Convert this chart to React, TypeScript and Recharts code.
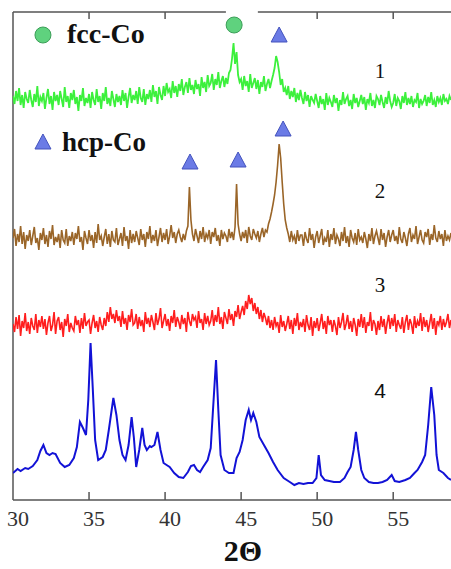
import React from 'react';
import {
  ComposedChart, Line, Scatter, XAxis, YAxis, ReferenceLine
} from 'recharts';

// 2-theta ticks
const xTicks = [30, 35, 40, 45, 50, 55];
const topTicks = [35, 40, 50, 55];

// traces 1-3 are sampled every 0.1 deg starting at 30
const greenVals = [
  404,396,409,399,412,395,405,392,408,401,
  397,410,400,393,406,398,414,394,403,399,
  407,391,402,411,396,404,390,408,399,405,
  395,409,401,393,413,398,404,392,407,400,
  410,396,403,389,405,399,412,394,402,397,
  406,392,408,400,395,411,398,404,391,407,
  399,413,396,402,394,409,401,393,406,398,
  404,395,410,399,407,392,403,412,397,405,
  400,409,396,413,402,398,411,395,406,401,
  410,398,415,403,409,396,413,405,400,414,
  404,417,408,411,402,419,407,414,403,416,
  409,421,405,413,418,407,422,410,415,406,
  420,411,416,404,423,412,418,408,425,414,
  417,426,410,421,415,428,412,419,424,413,
  422,416,427,430,441,457,436,448,425,418,
  421,410,424,414,419,408,426,412,417,422,
  411,420,406,418,413,424,409,416,421,412,
  419,425,432,444,438,428,415,421,408,412,
  405,414,401,409,403,412,398,407,400,410,
  402,396,408,399,405,393,404,400,397,406,
  399,392,404,396,401,390,407,395,402,398,
  393,405,397,402,389,400,395,408,396,401,
  404,394,400,391,406,397,402,393,399,405,
  396,403,390,401,397,407,394,400,392,404,
  401,395,405,398,392,403,396,409,399,393,
  397,406,394,402,399,391,404,397,408,395,
  402,396,404,393,400,398,407,392,401,396,
  399,405,394,403,397,408,395,400,393,404,
  398,402,395,406,399,401,396,404,400,
];

const brownVals = [
  262,271,254,266,258,274,256,268,251,265,
  259,270,255,264,273,257,262,250,267,260,
  272,256,265,253,269,261,275,255,263,258,
  266,252,270,260,257,271,254,264,259,268,
  255,267,261,274,258,263,250,269,262,256,
  270,259,265,252,268,257,276,260,264,254,
  263,271,256,266,253,269,260,258,272,255,
  261,267,254,273,259,264,251,270,257,266,
  258,269,262,255,271,260,266,253,268,261,
  274,257,265,259,270,254,263,272,258,267,
  260,271,256,264,275,262,268,257,266,270,
  263,258,266,260,269,274,313,280,266,259,
  271,264,257,269,261,273,258,266,262,270,
  256,268,263,272,259,265,254,270,261,267,
  264,258,271,262,268,260,273,316,276,266,
  259,268,262,270,257,273,264,260,271,266,
  262,269,258,266,272,263,270,268,276,281,
  288,296,305,318,335,356,342,318,296,280,
  272,266,258,269,260,264,256,270,259,265,
  265,254,268,261,257,272,260,266,252,263,
  269,257,264,271,255,262,258,270,253,266,
  260,272,256,265,261,254,268,259,273,257,
  264,253,270,262,258,267,255,271,260,263,
  257,268,261,252,266,259,272,256,264,269,
  262,255,271,260,267,253,263,270,258,265,
  270,259,264,256,273,261,257,268,262,254,
  266,272,258,265,261,274,256,263,270,260,
  257,268,263,271,255,266,260,275,262,258,
  269,261,266,254,270,259,264,260,267,
];

const redVals = [
  176,168,183,171,185,164,179,172,187,169,
  178,166,182,174,170,186,167,180,173,184,
  171,181,165,177,184,169,175,188,166,179,
  183,170,178,163,181,174,186,168,177,172,
  169,184,175,180,167,182,171,187,174,178,
  180,166,177,185,172,179,168,183,175,170,
  182,174,188,178,193,181,186,177,190,179,
  184,173,189,176,182,170,185,178,191,175,
  177,186,171,183,174,180,168,188,176,182,
  173,185,178,170,187,175,181,192,172,179,
  186,174,181,169,184,177,190,173,183,178,
  171,185,176,182,168,188,179,174,186,180,
  183,172,189,177,181,170,187,176,184,175,
  179,190,174,185,178,193,176,183,171,188,
  182,176,191,180,186,174,189,183,195,181,
  188,194,185,199,191,205,196,202,189,197,
  186,193,181,190,178,187,182,175,184,172,
  180,170,183,174,178,167,185,173,179,169,
  176,184,171,180,166,182,174,187,170,178,
  173,181,168,185,175,170,183,164,179,172,
  182,169,177,186,171,179,166,184,175,180,
  168,180,174,165,183,172,178,187,170,176,
  185,171,179,168,182,175,164,181,173,186,
  172,183,167,178,174,188,169,180,176,165,
  179,170,184,173,181,166,177,185,171,182,
  174,186,168,180,175,171,183,167,178,185,
  170,181,176,166,184,172,179,174,187,169,
  183,173,180,168,177,186,171,182,165,179,
  175,184,170,181,173,178,186,172,180,
];

// trace 4 (blue), irregular sampling
const blueX = [
  30.0, 30.3, 30.5, 30.8, 31.0, 31.3, 31.6, 31.8, 32.0, 32.2, 32.4, 32.6, 32.8, 33.1, 33.4, 33.7,
  34.0, 34.2, 34.4, 34.6, 34.8, 34.95, 35.1, 35.25, 35.4, 35.6, 35.9, 36.1, 36.3, 36.6, 36.8, 37.0,
  37.2, 37.4, 37.6, 37.8, 37.95, 38.1, 38.3, 38.5, 38.65, 38.8, 39.0, 39.1, 39.3, 39.5, 39.7, 39.9,
  40.1, 40.3, 40.6, 40.9, 41.2, 41.5, 41.7, 41.9, 42.1, 42.3, 42.5, 42.8, 43.0, 43.15, 43.35, 43.5,
  43.65, 43.9, 44.2, 44.5, 44.7, 44.9, 45.1, 45.3, 45.5, 45.65, 45.8, 46.0, 46.2, 46.5, 46.8, 47.1,
  47.4, 47.8, 48.2, 48.5, 48.8, 49.1, 49.4, 49.7, 49.95, 50.1, 50.25, 50.5, 50.8, 51.1, 51.5, 51.8,
  52.0, 52.2, 52.4, 52.55, 52.7, 52.9, 53.1, 53.4, 53.7, 54.0, 54.3, 54.6, 54.9, 55.1, 55.4, 55.8,
  56.1, 56.4, 56.6, 56.9, 57.1, 57.3, 57.5, 57.7, 57.85, 58.0, 58.3, 58.6, 58.8,
];
const blueVals = [
  27, 31, 29, 32, 31, 34, 40, 49, 55, 47, 45, 47, 46, 37, 33, 35,
  42, 53, 78, 72, 65, 100, 157, 110, 60, 40, 43, 50, 70, 102, 85, 60,
  45, 40, 55, 83, 62, 33, 50, 72, 55, 50, 54, 53, 55, 68, 50, 37,
  35, 33, 27, 23, 22, 28, 34, 35, 30, 28, 33, 40, 52, 90, 140, 90,
  45, 30, 27, 27, 42, 48, 60, 80, 90, 80, 87, 78, 63, 55, 47, 38,
  30, 22, 18, 15, 17, 16, 17, 17, 22, 45, 25, 20, 19, 18, 18, 22,
  28, 33, 50, 68, 50, 30, 22, 18, 17, 17, 18, 20, 25, 19, 18, 20,
  22, 27, 30, 38, 45, 75, 113, 85, 45, 30, 27, 22, 20,
];

// phase markers
const fccMarks = [{ x: 44.54, y: 475 }, { x: 31.97, y: 465 }];
const hcpMarks = [
  { x: 47.5, y: 465 }, { x: 31.97, y: 358 },
  { x: 41.64, y: 338 }, { x: 44.8, y: 340 }, { x: 47.76, y: 371 },
];

const toRows = (vals: number[]) => vals.map((v, i) => ({ x: +(30 + i * 0.1).toFixed(1), y: v }));
const greenData = toRows(greenVals);
const brownData = toRows(brownVals);
const redData = toRows(redVals);
const blueData = blueX.map((x, i) => ({ x, y: blueVals[i] }));

const AXIS = '#555';
const SERIF = '"Liberation Serif", "DejaVu Serif", serif';
const SANS = '"Liberation Sans", Arial, sans-serif';

const Circle = (p: any) => (
  <circle cx={p.cx} cy={p.cy} r={8} fill="#5fd27e" stroke="#3c9e58" strokeWidth={1} />
);
const Triangle = (p: any) => (
  <polygon
    points={`${p.cx},${p.cy - 8} ${p.cx - 8},${p.cy + 7} ${p.cx + 8},${p.cy + 7}`}
    fill="#6b7be6" stroke="#4453bd" strokeWidth={1}
  />
);

const Tick = (p: any) => (
  <text x={p.x + 5} y={526} textAnchor="middle" fontSize={22} fill="#333" style={{ fontFamily: SERIF }}>
    {p.payload.value}
  </text>
);

export default function App() {
  return (
    <div style={{ position: 'absolute', left: 0, top: 0, width: 451, height: 569, background: '#fff' }}>
      <ComposedChart width={451} height={569} margin={{ top: 12, right: 0, left: 13, bottom: 0 }}>
        <XAxis
          type="number" dataKey="x" domain={[30, 58.8]} ticks={xTicks}
          allowDataOverflow tickLine={false} axisLine={{ stroke: AXIS, strokeWidth: 1.5 }}
          tick={<Tick />} height={69}
        />
        <YAxis type="number" dataKey="y" domain={[0, 488]} hide />
        <ReferenceLine x={30} stroke={AXIS} strokeWidth={1.5} />
        <ReferenceLine segment={[{ x: 30, y: 488 }, { x: 44.0, y: 488 }]} stroke={AXIS} strokeWidth={1.5} />
        <ReferenceLine segment={[{ x: 46.1, y: 488 }, { x: 58.8, y: 488 }]} stroke={AXIS} strokeWidth={1.5} />
        {xTicks.slice(1).map((t) => (
          <ReferenceLine key={`b${t}`} segment={[{ x: t, y: 0 }, { x: t, y: 8 }]} stroke={AXIS} strokeWidth={1.5} />
        ))}
        {topTicks.map((t) => (
          <ReferenceLine key={`t${t}`} segment={[{ x: t, y: 488 }, { x: t, y: 481 }]} stroke={AXIS} strokeWidth={1.5} />
        ))}
        <Line data={greenData} dataKey="y" type="linear" stroke="#3cf03c" strokeWidth={1.8} dot={false} isAnimationActive={false} />
        <Line data={brownData} dataKey="y" type="linear" stroke="#9a6528" strokeWidth={1.6} dot={false} isAnimationActive={false} />
        <Line data={redData} dataKey="y" type="linear" stroke="#ff1e1e" strokeWidth={1.6} dot={false} isAnimationActive={false} />
        <Line data={blueData} dataKey="y" type="linear" stroke="#1212d6" strokeWidth={2} dot={false} isAnimationActive={false} />
        <Scatter data={fccMarks} dataKey="y" shape={<Circle />} isAnimationActive={false} />
        <Scatter data={hcpMarks} dataKey="y" shape={<Triangle />} isAnimationActive={false} />
      </ComposedChart>
      <svg width={451} height={569} style={{ position: 'absolute', left: 0, top: 0, pointerEvents: 'none' }}>
        <g fill="#111" style={{ fontFamily: SERIF }}>
          <text x={67} y={43} fontSize={28} fontWeight="bold">fcc-Co</text>
          <text x={62} y={151} fontSize={27} fontWeight="bold">hcp-Co</text>
          <text x={380} y={78} fontSize={21} textAnchor="middle">1</text>
          <text x={380} y={198} fontSize={21} textAnchor="middle">2</text>
          <text x={380} y={292} fontSize={21} textAnchor="middle">3</text>
          <text x={380} y={398} fontSize={21} textAnchor="middle" style={{ fontFamily: SANS }}>4</text>
          <text x={243} y={561} fontSize={30} fontWeight="bold" textAnchor="middle">2Θ</text>
        </g>
      </svg>
    </div>
  );
}
